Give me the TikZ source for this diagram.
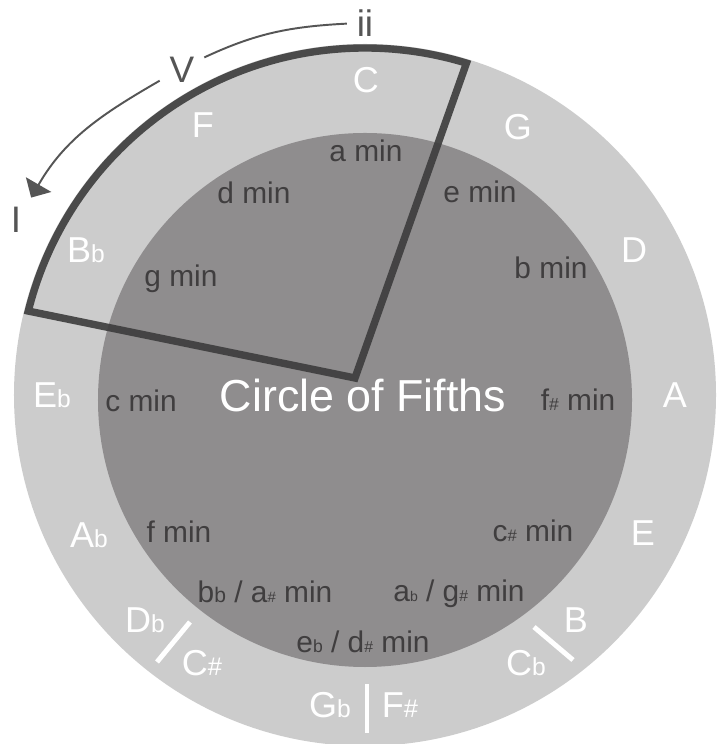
\documentclass[tikz,border=0pt]{standalone}
\usepackage{fontspec}
\setmainfont{Liberation Sans}
\usepackage{tikz}
\usetikzlibrary{arrows.meta}
\usepackage{xcolor}
\definecolor{Ring}{HTML}{CCCCCC}
\definecolor{Core}{HTML}{8F8D8E}
\definecolor{Ink}{HTML}{403E3F}
\definecolor{Pointer}{HTML}{555555}
\definecolor{Frame}{HTML}{3C3C3C}
\newcommand{\acc}[2]{{\fontsize{#1}{#1}\selectfont #2}}

\begin{document}
\begin{tikzpicture}[
    major/.style={anchor=base, text=white, font=\fontsize{20.5}{24}\selectfont},
    minor/.style={anchor=base, text=Ink, font=\fontsize{17}{20}\selectfont},
    degree/.style={anchor=base, text=Pointer, inner sep=5.5pt, font=\fontsize{21}{25}\selectfont},
    split/.style={draw=white, line width=2.8pt},
    pointer/.style={draw=Pointer, line width=1.1pt}]
            \path[fill=white] (-7.30,-6.98) rectangle (7.12,7.90);
            \useasboundingbox (-7.30,-6.98) rectangle (7.12,7.90);
            \fill[Ring] (0,0) circle (7.02);
            \fill[Core] (0,-0.10) circle (5.34);
            \draw[draw=Frame, draw opacity=0.9, line width=4.2pt]
                (-0.20,0.34) -- (166:6.94) arc[start angle=166, end angle=73, radius=6.94] -- cycle;

            \node[major] (C)  at (0.02, 6.04)  {C};
            \node[major] (G)  at (3.06, 5.10)  {G};
            \node[major] (D)  at (5.38, 2.64)  {D};
            \node[major] (A)  at (6.20, -0.26) {A};
            \node[major] (E)  at (5.56, -3.02) {E};
            \node[major] (B)  at (4.22, -4.74) {B};
            \node[major] (Cb) at (3.22, -5.60) {C\acc{14}{b}};
            \node[major] (Fs) at (0.70, -6.44) {F\acc{14.5}{\#}};
            \node[major] (Gb) at (-0.70, -6.44) {G\acc{14}{b}};
            \node[major] (Cs) at (-3.26, -5.60) {C\acc{14.5}{\#}};
            \node[major] (Db) at (-4.40, -4.74) {D\acc{14}{b}};
            \node[major] (Ab) at (-5.52, -3.06) {A\acc{14}{b}};
            \node[major] (Eb) at (-6.26, -0.26) {E\acc{14}{b}};
            \node[major] (Bb) at (-5.58, 2.64)  {B\acc{14}{b}};
            \node[major] (F)  at (-3.24, 5.14)  {F};

            \node[minor] (amin)  at (0.02, 4.66)   {a min};
            \node[minor] (emin)  at (2.30, 3.84)   {e min};
            \node[minor] (bmin)  at (3.72, 2.32)   {b min};
            \node[minor] (fsmin) at (4.26, -0.32)  {f\acc{10}{\#} min};
            \node[minor] (csmin) at (3.36, -2.92)  {c\acc{9.5}{\#} min};
            \node[minor] (gsmin) at (1.88, -4.12)  {a\acc{8}{b} / g\acc{9}{\#} min};
            \node[minor] (dsmin) at (-0.04, -5.14) {e\acc{10}{b} / d\acc{9}{\#} min};
            \node[minor] (asmin) at (-2.00, -4.14) {b\acc{12}{b} / a\acc{8.5}{\#} min};
            \node[minor] (fmin)  at (-3.72, -2.94) {f min};
            \node[minor] (cmin)  at (-4.48, -0.34) {c min};
            \node[minor] (gmin)  at (-3.68, 2.16)  {g min};
            \node[minor] (dmin)  at (-2.22, 3.82)  {d min};
            \node[anchor=base, text=white, font=\fontsize{25.5}{30}\selectfont]
                (title) at (-0.04, -0.34) {Circle of Fifths};

            \draw[split] (-3.50,-4.54) -- (-4.16,-5.34);
            \draw[split] (0.04,-5.78) -- (0.04,-6.76);
            \draw[split] (3.38,-4.64) -- (4.16,-5.30);

            \node[degree] (ii) at (0.00, 7.16)  {ii};
            \node[degree] (V)  at (-3.66, 6.24) {V};
            \node[degree] (I)  at (-6.98, 3.24) {I};
            \draw[pointer] (ii.west) to[out=183, in=25] (V.30);
            \draw[pointer, -{Triangle[length=0.3cm, width=0.58cm]}]
                (V.205) to[out=210, in=60] (I.north east);
        \end{tikzpicture}
\end{document}
